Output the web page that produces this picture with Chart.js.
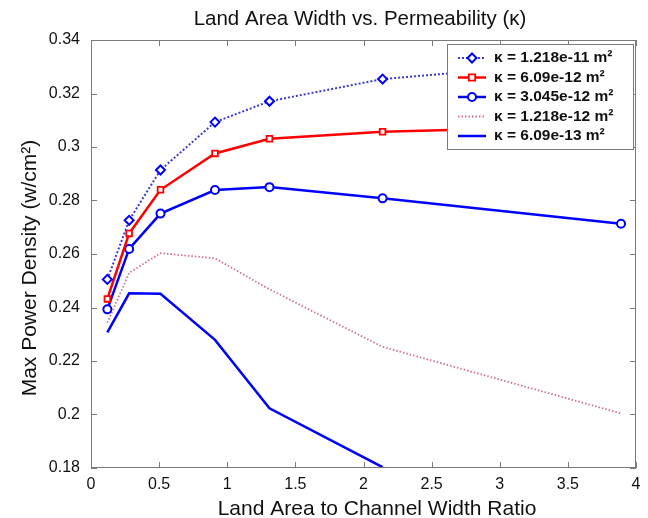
<!DOCTYPE html>
<html>
<head>
<meta charset="utf-8">
<script src="https://cdn.jsdelivr.net/npm/chart.js@4.4.1/dist/chart.umd.min.js"></script>
<style>
  html, body { margin: 0; padding: 0; background: #ffffff; }
  #wrap { width: 648px; height: 518px; }
</style>
</head>
<body>
<div id="wrap"><canvas id="c" width="648" height="518"></canvas></div>
<script>
// ---- data ----
const ratio = [0.12, 0.28, 0.51, 0.91, 1.31, 2.14, 3.89];
const kappa1 = [0.2505, 0.2726, 0.2914, 0.3093, 0.3171, 0.3254, 0.3330];
const kappa2 = [0.2432, 0.2677, 0.2840, 0.2976, 0.3031, 0.3057, 0.3080];
const kappa3 = [0.2393, 0.2619, 0.2751, 0.2839, 0.2850, 0.2808, 0.2713];
const kappa4 = [0.2343, 0.2530, 0.2603, 0.2584, 0.2468, 0.2253, 0.2004];
const kappa5 = [0.2307, 0.2453, 0.2451, 0.2279, 0.2023, 0.1803, null];
const seriesLabels = [
  'κ = 1.218e-11 m²',
  'κ = 6.09e-12 m²',
  'κ = 3.045e-12 m²',
  'κ = 1.218e-12 m²',
  'κ = 6.09e-13 m²'
];
const xTicks = [0, 0.5, 1, 1.5, 2, 2.5, 3, 3.5, 4];
const yTicks = [0.18, 0.2, 0.22, 0.24, 0.26, 0.28, 0.3, 0.32, 0.34];
const titleText = 'Land Area Width vs. Permeability (κ)';
const xTitle = 'Land Area to Channel Width Ratio';
const yTitle = 'Max Power Density (w/cm²)';

const FONT = '"Liberation Sans", Arial, Helvetica, sans-serif';
const toPts = arr => ratio.map((x, i) => ({ x: x, y: arr[i] }));

const datasets = [
  { label: seriesLabels[0], data: toPts(kappa1), borderColor: '#3a3ad0', borderWidth: 2, borderDash: [2, 2],
    pointStyle: 'rectRot', pointRadius: 4.5, pointBorderColor: '#0000ff', pointBackgroundColor: '#ffffff', pointBorderWidth: 2 },
  { label: seriesLabels[1], data: toPts(kappa2), borderColor: '#ff0000', borderWidth: 2.5,
    pointStyle: 'rect', pointRadius: 4, pointBorderColor: '#ff0000', pointBackgroundColor: '#ffffff', pointBorderWidth: 1.8 },
  { label: seriesLabels[2], data: toPts(kappa3), borderColor: '#0000ff', borderWidth: 2.5,
    pointStyle: 'circle', pointRadius: 4, pointBorderColor: '#0000ff', pointBackgroundColor: '#ffffff', pointBorderWidth: 2 },
  { label: seriesLabels[3], data: toPts(kappa4), borderColor: '#d0708a', borderWidth: 1.8, borderDash: [1.5, 2],
    pointRadius: 0 },
  { label: seriesLabels[4], data: toPts(kappa5), borderColor: '#0000ff', borderWidth: 2.5,
    pointRadius: 0 }
];

function drawMarker(ctx, ds, x, y) {
  if (!ds.pointRadius) return;
  const r = ds.pointRadius;
  ctx.save();
  ctx.setLineDash([]);
  ctx.lineWidth = ds.pointBorderWidth;
  ctx.strokeStyle = ds.pointBorderColor;
  ctx.fillStyle = ds.pointBackgroundColor;
  ctx.beginPath();
  if (ds.pointStyle === 'rectRot') {
    ctx.moveTo(x, y - r); ctx.lineTo(x + r, y); ctx.lineTo(x, y + r); ctx.lineTo(x - r, y); ctx.closePath();
  } else if (ds.pointStyle === 'rect') {
    const s = r * 0.8;
    ctx.rect(x - s, y - s, 2 * s, 2 * s);
  } else {
    ctx.arc(x, y, r, 0, Math.PI * 2);
  }
  ctx.fill(); ctx.stroke();
  ctx.restore();
}

const frameAndLegend = {
  id: 'frameAndLegend',
  afterDraw(chart) {
    const { ctx, chartArea: a, scales } = chart;
    ctx.save();
    // titles
    ctx.fillStyle = '#111';
    ctx.textAlign = 'center';
    ctx.textBaseline = 'middle';
    ctx.font = '20.5px ' + FONT;
    ctx.fillText(titleText, 360, 19);
    ctx.font = '21px ' + FONT;
    ctx.fillText(xTitle, 377, 509);
    ctx.save();
    ctx.translate(30, 268);
    ctx.rotate(-Math.PI / 2);
    ctx.fillText(yTitle, 0, 0);
    ctx.restore();

    // box and inward ticks
    ctx.strokeStyle = '#7a7a7a';
    ctx.lineWidth = 1;
    ctx.strokeRect(a.left + 0.5, a.top + 0.5, a.right - a.left - 1, a.bottom - a.top - 1);
    ctx.beginPath();
    scales.x.ticks.forEach(t => {
      const px = Math.round(scales.x.getPixelForValue(t.value)) + 0.5;
      ctx.moveTo(px, a.bottom); ctx.lineTo(px, a.bottom - 6);
      ctx.moveTo(px, a.top); ctx.lineTo(px, a.top + 6);
    });
    scales.y.ticks.forEach(t => {
      const py = Math.round(scales.y.getPixelForValue(t.value)) + 0.5;
      ctx.moveTo(a.left, py); ctx.lineTo(a.left + 6, py);
      ctx.moveTo(a.right, py); ctx.lineTo(a.right - 6, py);
    });
    ctx.stroke();

    // legend
    const lx = 447, ly = 44, lw = 186, lh = 105;
    ctx.fillStyle = '#ffffff';
    ctx.fillRect(lx, ly, lw, lh);
    ctx.strokeStyle = '#7a7a7a';
    ctx.strokeRect(lx + 0.5, ly + 0.5, lw, lh);
    ctx.font = 'bold 15.5px ' + FONT;
    ctx.textAlign = 'left';
    ctx.textBaseline = 'middle';
    chart.data.datasets.forEach((ds, i) => {
      const cy = 58 + i * 19.5;
      ctx.save();
      ctx.strokeStyle = ds.borderColor;
      ctx.lineWidth = ds.borderWidth;
      ctx.setLineDash(ds.borderDash || []);
      ctx.beginPath(); ctx.moveTo(458, cy); ctx.lineTo(486, cy); ctx.stroke();
      ctx.restore();
      drawMarker(ctx, ds, 472, cy);
      ctx.fillStyle = '#111';
      ctx.fillText(ds.label, 494, cy);
    });
    ctx.restore();
  }
};

new Chart(document.getElementById('c'), {
  type: 'line',
  data: { datasets: datasets },
  options: {
    responsive: false,
    animation: false,
    devicePixelRatio: 1,
    layout: { padding: { left: 0, right: 12, top: 40, bottom: 0 } },
    plugins: { legend: { display: false }, title: { display: false }, tooltip: { enabled: false } },
    elements: { line: { tension: 0, fill: false } },
    scales: {
      x: {
        type: 'linear', min: 0, max: 4,
        afterBuildTicks: s => { s.ticks = xTicks.map(v => ({ value: v })); },
        afterFit: s => { s.height = 50; },
        grid: { display: false, drawTicks: false },
        border: { display: false },
        ticks: { color: '#111', padding: 7, font: { family: FONT, size: 16 },
                 callback: v => String(v) }
      },
      y: {
        type: 'linear', min: 0.18, max: 0.34,
        afterBuildTicks: s => { s.ticks = yTicks.map(v => ({ value: v })); },
        afterFit: s => { s.width = 91; },
        grid: { display: false, drawTicks: false },
        border: { display: false },
        ticks: { color: '#111', padding: 11, font: { family: FONT, size: 16 },
                 callback: v => String(Number(v.toFixed(2))) }
      }
    }
  },
  plugins: [frameAndLegend]
});
</script>
</body>
</html>
